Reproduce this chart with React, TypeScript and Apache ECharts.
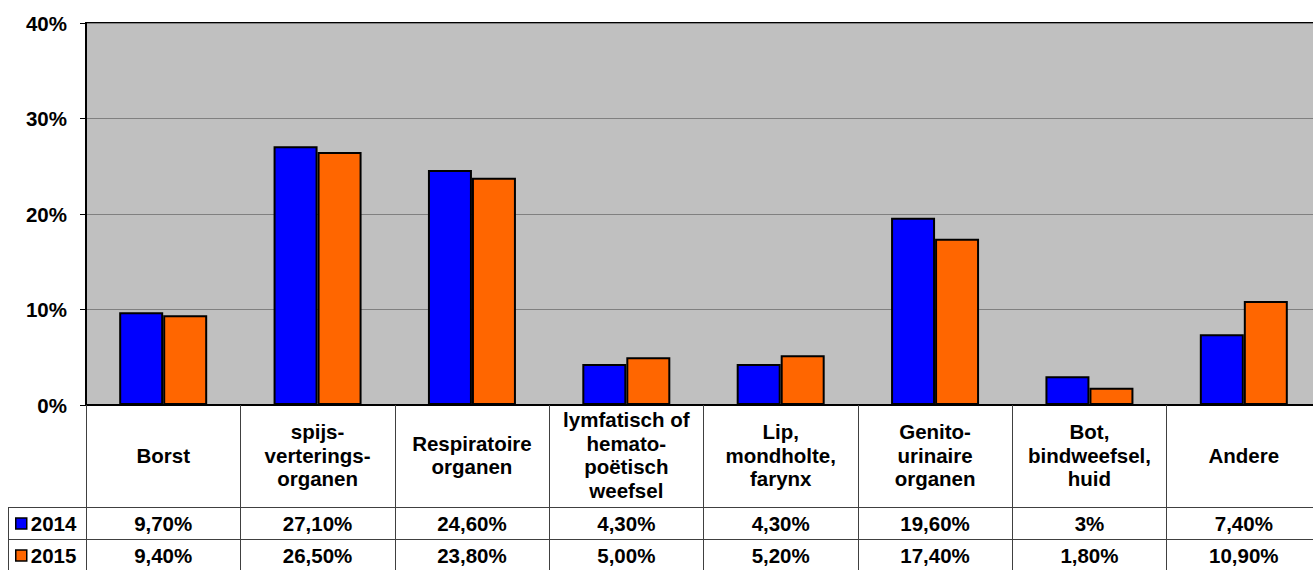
import React, { useEffect, useRef } from "react";
import * as echarts from "echarts";

const categories = [
  "Borst",
  "spijs-\nverterings-\norganen",
  "Respiratoire\norganen",
  "lymfatisch of\nhemato-\npoëtisch\nweefsel",
  "Lip,\nmondholte,\nfarynx",
  "Genito-\nurinaire\norganen",
  "Bot,\nbindweefsel,\nhuid",
  "Andere",
];
const seriesNames = ["2014", "2015"];
const values2014 = [9.7, 27.1, 24.6, 4.3, 4.3, 19.6, 3, 7.4];
const values2015 = [9.4, 26.5, 23.8, 5.0, 5.2, 17.4, 1.8, 10.9];
const table2014 = ["9,70%", "27,10%", "24,60%", "4,30%", "4,30%", "19,60%", "3%", "7,40%"];
const table2015 = ["9,40%", "26,50%", "23,80%", "5,00%", "5,20%", "17,40%", "1,80%", "10,90%"];
const yTicks = { min: 0, max: 40, interval: 10 };

const FONT = "'Liberation Sans', Arial, sans-serif";
const txt = { fontFamily: FONT, fontWeight: "bold" as const, fontSize: 20.5, color: "#000" };

export default function App() {
  const ref = useRef<HTMLDivElement>(null);
  useEffect(() => {
    if (!ref.current) return;
    const chart = echarts.init(ref.current, undefined, { renderer: "svg" });
    const lineStyle = { stroke: "#404040", lineWidth: 1 };
    chart.setOption({
      animation: false,
      backgroundColor: "#fff",
      textStyle: { fontFamily: FONT },
      grid: {
        left: 86,
        top: 23,
        right: 0,
        bottom: 165,
        show: true,
        backgroundColor: "#C0C0C0",
        borderColor: "#000",
        borderWidth: 2,
      },
      legend: [
        {
          data: [seriesNames[0]],
          left: 15,
          top: 513,
          itemWidth: 11,
          itemHeight: 11,
          icon: "rect",
          textStyle: { ...txt, lineHeight: 21, padding: [0, 0, 0, -1] },
          itemStyle: { borderColor: "#000", borderWidth: 1.5 },
          padding: 0,
        },
        {
          data: [seriesNames[1]],
          left: 15,
          top: 545,
          itemWidth: 11,
          itemHeight: 11,
          icon: "rect",
          textStyle: { ...txt, lineHeight: 21, padding: [0, 0, 0, -1] },
          itemStyle: { borderColor: "#000", borderWidth: 1.5 },
          padding: 0,
        },
      ],
      xAxis: [
        {
          type: "category",
          data: categories,
          position: "bottom",
          axisLine: { lineStyle: { color: "#000", width: 2 } },
          axisTick: { show: true, length: 170, lineStyle: { color: "#404040", width: 1 } },
          axisLabel: {
            ...txt,
            interval: 0,
            margin: 50,
            verticalAlign: "middle",
            lineHeight: 23.5,
            align: "center",
          },
        },
        {
          type: "category",
          data: categories,
          position: "bottom",
          offset: 102,
          axisLine: { show: false },
          axisTick: { show: false },
          axisLabel: {
            ...txt,
            interval: 0,
            margin: 16,
            verticalAlign: "middle",
            formatter: (_v: string, i: number) => table2014[i],
          },
        },
        {
          type: "category",
          data: categories,
          position: "bottom",
          offset: 135,
          axisLine: { show: false },
          axisTick: { show: false },
          axisLabel: {
            ...txt,
            interval: 0,
            margin: 15,
            verticalAlign: "middle",
            formatter: (_v: string, i: number) => table2015[i],
          },
        },
      ],
      yAxis: {
        type: "value",
        min: yTicks.min,
        max: yTicks.max,
        interval: yTicks.interval,
        axisLine: { show: true, lineStyle: { color: "#000", width: 2 } },
        axisTick: { show: true, length: 6, lineStyle: { color: "#000", width: 1 } },
        axisLabel: { ...txt, margin: 19, formatter: "{value}%" },
        splitLine: { lineStyle: { color: "#808080", width: 1 } },
      },
      series: [
        {
          name: seriesNames[0],
          type: "bar",
          data: values2014,
          barWidth: 44,
          barGap: "0%",
          itemStyle: { color: "#0000FF", borderColor: "#000", borderWidth: 2 },
        },
        {
          name: seriesNames[1],
          type: "bar",
          data: values2015,
          barWidth: 44,
          barGap: "0%",
          itemStyle: { color: "#FF6600", borderColor: "#000", borderWidth: 2 },
        },
      ],
      graphic: [
        { type: "line", shape: { x1: 8, y1: 507.5, x2: 1321, y2: 507.5 }, style: lineStyle, silent: true },
        { type: "line", shape: { x1: 8, y1: 539.5, x2: 1321, y2: 539.5 }, style: lineStyle, silent: true },
        { type: "line", shape: { x1: 8.5, y1: 507, x2: 8.5, y2: 570 }, style: lineStyle, silent: true },
      ],
    });
    return () => chart.dispose();
  }, []);
  return (
    <div style={{ position: "fixed", left: 0, top: 0, width: 1313, height: 570, overflow: "hidden" }}>
      <div ref={ref} style={{ width: 1321, height: 570 }} />
    </div>
  );
}
